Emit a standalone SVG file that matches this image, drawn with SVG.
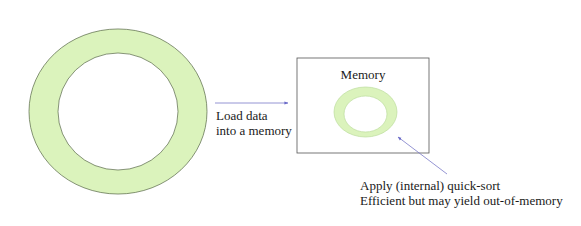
<svg xmlns="http://www.w3.org/2000/svg" width="581" height="226" viewBox="0 0 581 226">
<style>
text{font-family:"Liberation Serif",serif;font-size:13px;fill:#1a1a1a}
.conn{stroke:#7a7ac8;stroke-width:0.8;fill:none}
</style>
<defs>
<marker id="ah" viewBox="0 0 10 10" refX="9" refY="5" markerWidth="5" markerHeight="5" orient="auto">
<path d="M0,1 L10,5 L0,9 z" fill="#6a6ac8"/>
</marker>
</defs>
<rect width="581" height="226" fill="#fff"/>
<g id="bigRing">
<path d="M29,111.5 a89,82.5 0 1,0 178,0 a89,82.5 0 1,0 -178,0 Z M58,111.5 a60,58.5 0 1,1 120,0 a60,58.5 0 1,1 -120,0 Z" fill="#dbf3bc" fill-rule="evenodd" stroke="#556644" stroke-width="0.7"/>
</g>
<g id="memory">
<rect x="297" y="58" width="132" height="95" fill="#fff" stroke="#555" stroke-width="0.8"/>
<text x="363" y="79" text-anchor="middle">Memory</text>
<path d="M334,112 a31.5,25 0 1,0 63,0 a31.5,25 0 1,0 -63,0 Z M344,114 a21.5,18 0 1,1 43,0 a21.5,18 0 1,1 -43,0 Z" fill="#dbf3bc" fill-rule="evenodd" stroke="#bcdc9c" stroke-width="0.7"/>
</g>
<g id="connectors">
<line class="conn" x1="215" y1="103" x2="288" y2="103" marker-end="url(#ah)"/>
<line class="conn" x1="447" y1="174" x2="398" y2="137" marker-end="url(#ah)"/>
</g>
<g id="labels">
<text x="216" y="120">Load data</text>
<text x="216" y="135">into a memory</text>
<text x="360" y="190">Apply (internal) quick-sort</text>
<text x="360" y="205">Efficient but may yield out-of-memory</text>
</g>
</svg>
